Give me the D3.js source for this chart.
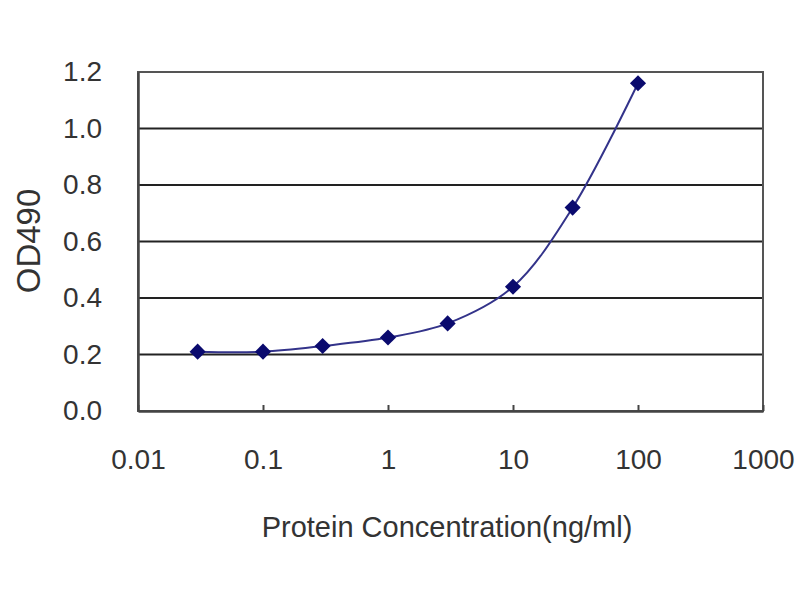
<!DOCTYPE html>
<html>
<head>
<meta charset="utf-8">
<script src="https://cdn.jsdelivr.net/npm/d3@7"></script>
<style>
  body { margin: 0; background: #fff; }
  svg text { font-family: "Liberation Sans", Arial, sans-serif; fill: #333; }
</style>
</head>
<body>
<svg id="chart"></svg>
<script>
const width = 800;
const height = 600;
const margin = { top: 72, right: 37, bottom: 189, left: 138 };

// data
const concentrations = [0.03, 0.1, 0.3, 1, 3, 10, 30, 100];
const odValues = [0.21, 0.21, 0.23, 0.26, 0.31, 0.44, 0.72, 1.16];
const xTicks = [0.01, 0.1, 1, 10, 100, 1000];
const xTickLabels = ['0.01', '0.1', '1', '10', '100', '1000'];
const yTicks = [0, 0.2, 0.4, 0.6, 0.8, 1.0, 1.2];

const points = concentrations.map((c, i) => ({ c, od: odValues[i] }));

const svg = d3.select('#chart').attr('width', width).attr('height', height);

const xScale = d3
  .scaleLog()
  .domain([0.01, 1000])
  .range([margin.left, width - margin.right]);
const yScale = d3
  .scaleLinear()
  .domain([0, 1.2])
  .range([height - margin.bottom, margin.top]);

// gridlines
svg
  .append('g')
  .selectAll('line')
  .data(yTicks.slice(1))
  .join('line')
  .attr('x1', margin.left)
  .attr('x2', width - margin.right)
  .attr('y1', d => yScale(d))
  .attr('y2', d => yScale(d))
  .attr('stroke', '#222')
  .attr('stroke-width', 2);

// plot frame
svg
  .append('rect')
  .attr('x', margin.left)
  .attr('y', margin.top)
  .attr('width', width - margin.left - margin.right)
  .attr('height', height - margin.top - margin.bottom)
  .attr('fill', 'none')
  .attr('stroke', '#555')
  .attr('stroke-width', 2);

// x axis
const xAxis = svg
  .append('g')
  .attr('transform', `translate(0, ${height - margin.bottom})`)
  .call(
    d3.axisBottom(xScale)
      .tickValues(xTicks)
      .tickFormat((d, i) => xTickLabels[i])
      .tickSizeInner(-6)
      .tickSizeOuter(0)
      .tickPadding(38)
  );
xAxis.select('.domain').attr('stroke', '#444').attr('stroke-width', 2.5);
xAxis.selectAll('.tick line').attr('stroke', '#444').attr('stroke-width', 2);
xAxis.selectAll('.tick text').style('font-size', '28px').attr('fill', '#333');

// y axis
const yAxis = svg
  .append('g')
  .attr('transform', `translate(${margin.left}, 0)`)
  .call(
    d3.axisLeft(yScale)
      .tickValues(yTicks)
      .tickFormat(d3.format('.1f'))
      .tickSize(0)
      .tickPadding(36)
  );
yAxis.select('.domain').attr('stroke', '#444').attr('stroke-width', 2.5);
yAxis.selectAll('.tick text').style('font-size', '28px').attr('fill', '#333');

// axis titles
svg
  .append('text')
  .attr('x', 447)
  .attr('y', 537)
  .attr('text-anchor', 'middle')
  .style('font-size', '29px')
  .text('Protein Concentration(ng/ml)');
svg
  .append('text')
  .attr('transform', 'rotate(-90)')
  .attr('x', -241)
  .attr('y', 40)
  .attr('text-anchor', 'middle')
  .style('font-size', '33px')
  .text('OD490');

// smoothed curve
const line = d3
  .line()
  .x(d => xScale(d.c))
  .y(d => yScale(d.od))
  .curve(d3.curveCatmullRom.alpha(0.5));
svg
  .append('path')
  .datum(points)
  .attr('d', line)
  .attr('fill', 'none')
  .attr('stroke', '#33338a')
  .attr('stroke-width', 2);

// diamond markers
svg
  .append('g')
  .selectAll('path')
  .data(points)
  .join('path')
  .attr('transform', d => `translate(${xScale(d.c)}, ${yScale(d.od)}) rotate(45)`)
  .attr('d', d3.symbol(d3.symbolSquare, 130))
  .attr('fill', '#0a0a6e');
</script>
</body>
</html>
